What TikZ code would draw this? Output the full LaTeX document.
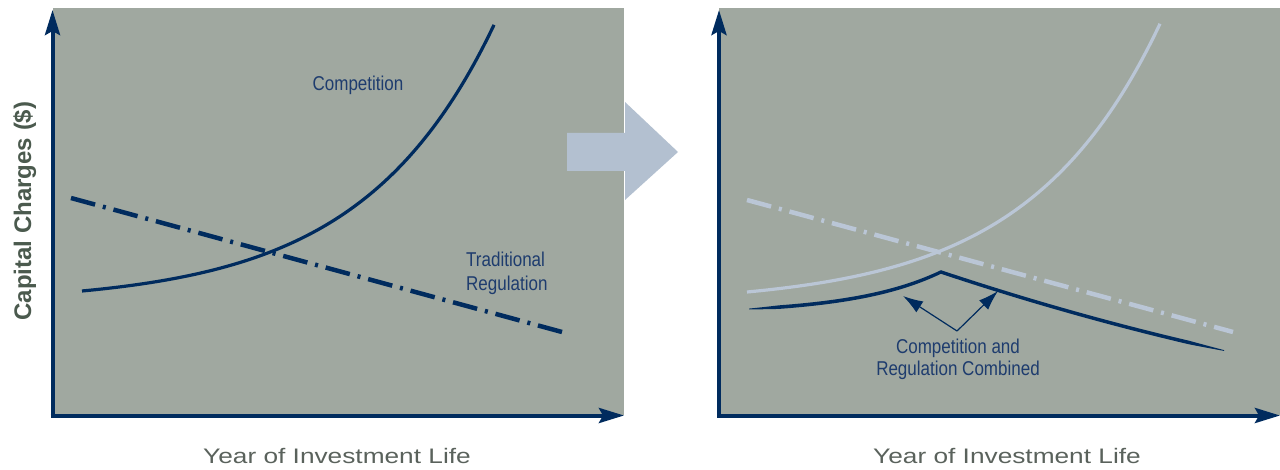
\documentclass[tikz,border=0pt]{standalone}
\usepackage{fontspec}
\setmainfont{Liberation Sans}
\newfontfamily\condfont[FakeStretch=0.85]{Liberation Sans}
\newfontfamily\widefont[FakeStretch=1.25]{Liberation Sans}
\usetikzlibrary{arrows.meta}
\definecolor{panelgrey}{RGB}{160,168,160}
\definecolor{navy}{RGB}{0,43,94}
\definecolor{labelnavy}{RGB}{30,60,110}
\definecolor{paleblue}{RGB}{179,192,208}
\definecolor{palecurve}{RGB}{186,198,214}
\definecolor{ylabel}{RGB}{75,90,78}
\definecolor{xlabel}{RGB}{90,98,92}
\tikzset{
  declare function={
    comp(\t)=12.4*(exp(0.00755*\t)-1);
    yL(\x)=309-4.57*(exp(0.0115*(\x-749))-1);
    yR(\x)=272+0.3335*(\x-941)-0.000198*(\x-941)*(\x-941);
    cw(\x)=0.8+2.8*min(1,(\x-749)/30,(1224-\x)/35);
  },
  panel/.style={fill=panelgrey, draw=none},
  axisline/.style={draw=navy, line width=4pt, -{Stealth[length=25pt,width=15pt,inset=4pt]}},
  compcurve/.style={draw=navy, line width=3.2pt},
  regline/.style={draw=navy, line width=4.5pt, dash pattern=on 25pt off 8pt on 3pt off 8pt},
  palecomp/.style={draw=palecurve, line width=3.2pt},
  palereg/.style={draw=palecurve, line width=4.5pt, dash pattern=on 25pt off 8pt on 3pt off 8pt},
  combcurve/.style={fill=navy, draw=none},
  annot/.style={draw=navy, line width=1.2pt, -{Latex[length=20pt,width=13pt]}},
  curvelabel/.style={text=labelnavy, inner sep=0pt, font=\condfont\fontsize{20}{24}\selectfont},
  xtitle/.style={text=xlabel, inner sep=0pt, font=\widefont\fontsize{21}{25}\selectfont},
  ytitle/.style={text=ylabel, inner sep=0pt, rotate=90, font=\bfseries\fontsize{24}{28}\selectfont},
  bigarrow/.style={fill=paleblue, draw=none}
}
\begin{document}
\begin{tikzpicture}[x=1pt,y=-1pt]
\useasboundingbox (0,0) rectangle (1280,470);
% panels
\path[panel] (53,8) rectangle (624,415);
\path[panel] (719,8) rectangle (1280,415);
% big arrow between panels
\path[bigarrow] (567,133) -- (625,133) -- (625,102) -- (678,152) -- (625,200) -- (625,171) -- (567,171) -- cycle;

% ---------- left panel ----------
\coordinate (LYb) at (52.5,417.5);
\coordinate (LYt) at (52.5,10);
\coordinate (LXl) at (50.5,415.5);
\coordinate (LXr) at (624,415.5);
\draw[axisline] (LYb) -- (LYt);
\draw[axisline] (LXl) -- (LXr);

\draw[regline] (71,198) -- (562,332);
\draw[compcurve] plot[domain=82:494, samples=90, smooth] (\x, {291-comp(\x-82)});

\node[curvelabel, anchor=base] (lcomp) at (358,91) {Competition};
\node[curvelabel, anchor=base west] (ltrad) at (466,267) {Traditional};
\node[curvelabel, anchor=base west] (lreg) at (466,291) {Regulation};

\node[ytitle, anchor=base] (ytitle) at (31,211) {Capital Charges (\$)};
\node[xtitle, anchor=base] (lxtitle) at (337,463) {Year of Investment Life};

% ---------- right panel ----------
\coordinate (RYb) at (719,417.5);
\coordinate (RYt) at (719,10);
\coordinate (RXl) at (717,415.5);
\coordinate (RXr) at (1280,415.5);
\draw[axisline] (RYb) -- (RYt);
\draw[axisline] (RXl) -- (RXr);

\draw[palereg] (747,200) -- (1233,332);
\draw[palecomp] plot[domain=747:1160, samples=90, smooth] (\x, {292-comp(\x-747)});

% combined curve (tapered ends)
\path[combcurve]
  plot[domain=749:941, samples=50] (\x, {yL(\x)-cw(\x)/2})
  -- plot[domain=941:1224, samples=60] (\x, {yR(\x)-cw(\x)/2})
  -- plot[domain=1224:941, samples=60] (\x, {yR(\x)+cw(\x)/2})
  -- plot[domain=941:749, samples=50] (\x, {yL(\x)+cw(\x)/2})
  -- cycle;

\coordinate (apex) at (957,331);
\coordinate (tipL) at (903,296);
\coordinate (tipR) at (998,291);
\draw[annot] (apex) -- (tipL);
\draw[annot] (apex) -- (tipR);

\node[curvelabel, anchor=base] (rcomb1) at (958,353) {Competition and};
\node[curvelabel, anchor=base] (rcomb2) at (958,375) {Regulation Combined};

\node[xtitle, anchor=base] (rxtitle) at (1007,463) {Year of Investment Life};
\end{tikzpicture}
\end{document}
